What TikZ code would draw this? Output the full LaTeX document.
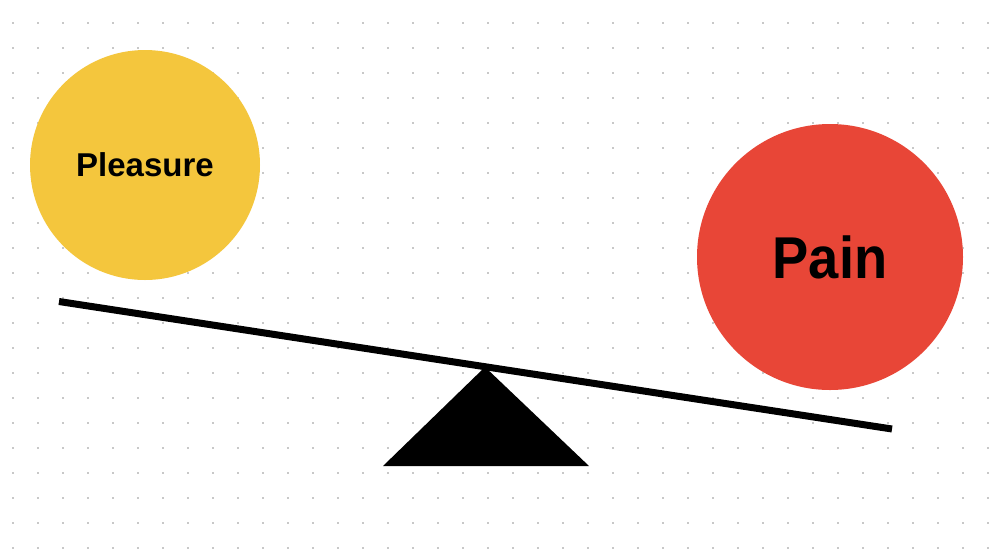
\documentclass[tikz,border=0pt]{standalone}
\usepackage{fontspec}
\setmainfont{Liberation Sans}
\definecolor{pyellow}{HTML}{F4C63D}
\definecolor{pred}{HTML}{E84637}
\definecolor{griddot}{HTML}{C8C8C8}
\begin{document}
\begin{tikzpicture}[x=1pt,y=-1pt,
  ball/.style={circle,inner sep=0pt,draw=none,text=black,font=\bfseries},
  beam/.style={line width=7pt,line cap=butt},
  pivot/.style={fill=black,draw=none}]
\useasboundingbox (0,0) rectangle (1002,550);
\fill[white] (0,0) rectangle (1002,550);
\foreach \i in {0,...,39}{
  \foreach \j in {0,...,21}{
    \fill[griddot] ({13+25*\i-1},{23+25*\j-1}) rectangle ++(2,2);
  }
}
\node[ball,fill=pyellow,minimum size=230pt,font=\fontsize{33}{36}\selectfont\bfseries] (pleasure) at (145,165) {Pleasure};
\node[ball,fill=pred,minimum size=266pt,font=\fontsize{59}{62}\selectfont\bfseries] (pain) at (830,257) {\scalebox{0.92}[1]{Pain}};
\coordinate (beamL) at (59,301.5);
\coordinate (beamR) at (892,429);
\coordinate (apex) at (485,367);
\coordinate (baseL) at (383,466);
\coordinate (baseR) at (589,466);
\fill[pivot] (apex) -- (baseR) -- (baseL) -- cycle;
\draw[beam] (beamL) -- (beamR);
\end{tikzpicture}
\end{document}
